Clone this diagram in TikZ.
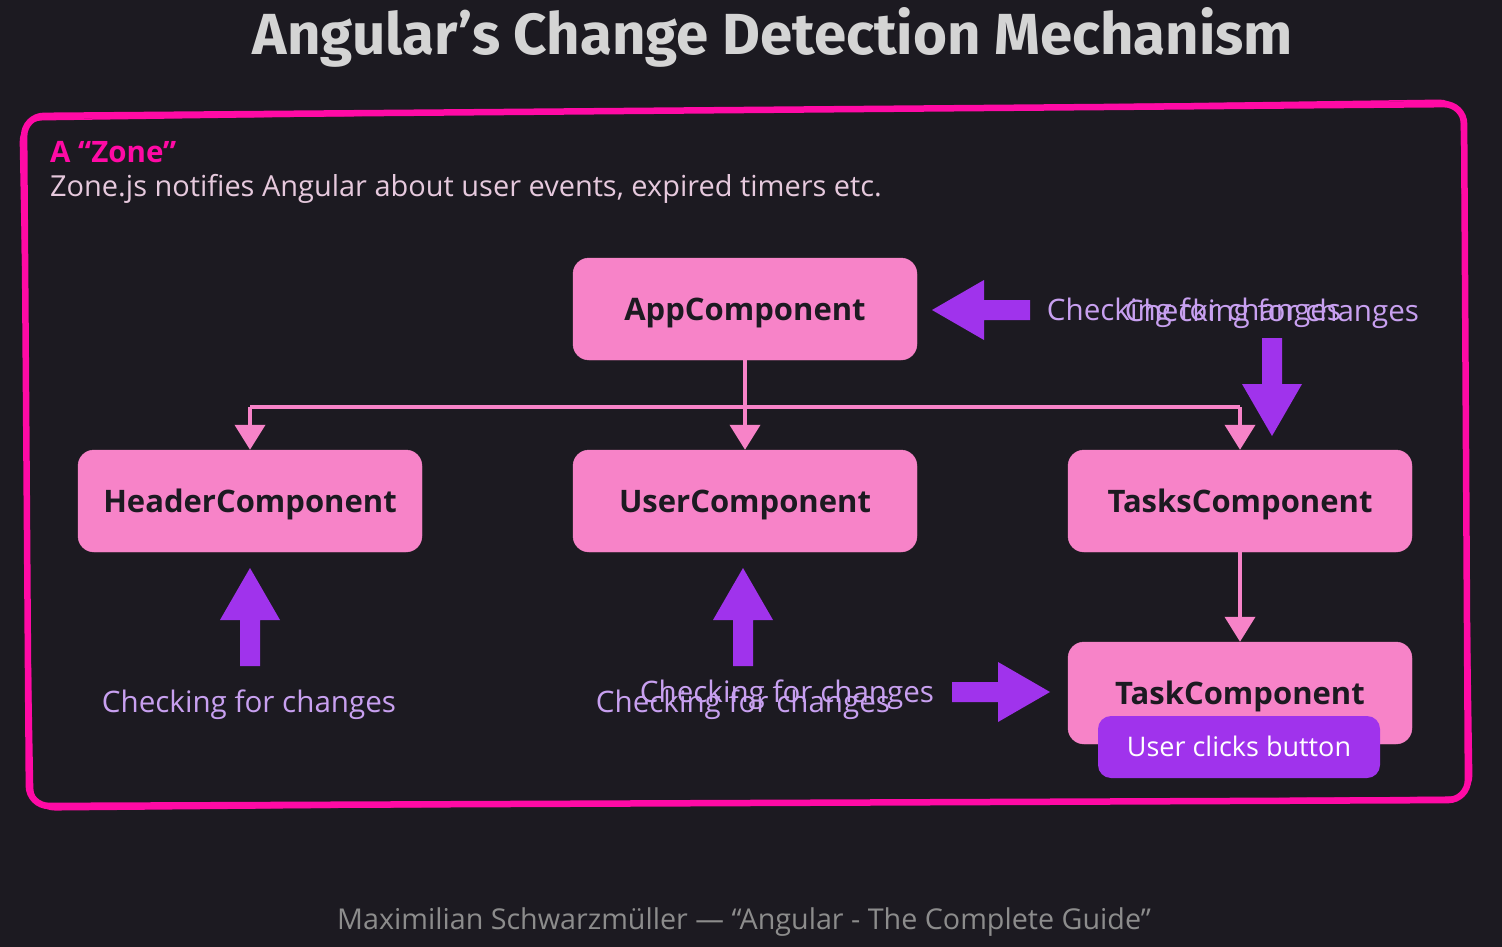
\documentclass[tikz,border=0pt]{standalone}
\usepackage{fontspec}
\usepackage{graphicx}
\setmainfont{Open Sans}
\newfontfamily\titlefont{Fira Sans}
\usetikzlibrary{arrows.meta}
\definecolor{bg}{HTML}{1C1A21}
\definecolor{zonepink}{HTML}{FF0AA5}
\definecolor{boxpink}{HTML}{F783C8}
\definecolor{bigpurple}{HTML}{A033EC}
\definecolor{lablav}{HTML}{C8A0F0}
\definecolor{zonetext}{HTML}{E6C9DD}
\definecolor{titlegrey}{HTML}{D4D4D4}
\definecolor{footgrey}{HTML}{8C8C8C}
\definecolor{darktext}{HTML}{1C1A21}
\tikzset{
  comp/.style={draw=boxpink, fill=boxpink, rounded corners=16pt, minimum width=344pt, minimum height=102pt, inner sep=0pt, text=darktext, text height=22pt, text depth=0pt, font=\fontsize{31}{34}\selectfont\bfseries},
  checklabel/.style={text=lablav, inner sep=0pt, text height=21pt, text depth=0pt, font=\fontsize{29.6}{33}\selectfont},
  conn/.style={draw=boxpink, line width=4pt, -{Triangle[width=30pt,length=25pt]}},
  connline/.style={draw=boxpink, line width=4pt},
  bigarrow/.style={fill=bigpurple, draw=none},
}
\newcommand{\purplearrow}[3]{%
  \begin{scope}[shift={(#1,#2)}, rotate=#3]
    \path[bigarrow] (0,0) -- (-52,30) -- (-52,10) -- (-98,10) -- (-98,-10) -- (-52,-10) -- (-52,-30) -- cycle;
  \end{scope}}
\begin{document}
\begin{tikzpicture}[x=1pt,y=-1pt]
\fill[bg] (0,0) rectangle (1502,947);
\useasboundingbox (0,0) rectangle (1502,947);

% title
\node[anchor=base, inner sep=0pt, text=titlegrey] (title) at (773,55)
  {\resizebox{1040pt}{47pt}{\titlefont\bfseries Angular’s Change Detection Mechanism}};

% zone frame
\draw[zonepink, line width=6.5pt, rounded corners=20pt] (24,116) -- (1464,104) -- (1468,800) -- (29,806) -- cycle;
\draw[zonepink, line width=1.5pt, rounded corners=22pt] (20,120) -- (1461,100) -- (1472,797) -- (33,810) -- cycle;

\node[anchor=base west, inner sep=0pt, text=zonepink, font=\fontsize{29.5}{32}\selectfont\bfseries] (zonetitle) at (50,163) {A “Zone”};
\node[anchor=base west, inner sep=0pt, text=zonetext, font=\fontsize{28.95}{32}\selectfont] (zonedesc) at (50,196) {Zone.js notifies Angular about user events, expired timers etc.};

% components
\node[comp] (app) at (745,309) {AppComponent};
\node[comp] (header) at (250,501) {HeaderComponent};
\node[comp] (user) at (745,501) {UserComponent};
\node[comp] (tasks) at (1240,501) {TasksComponent};
\node[comp] (task) at (1240,693) {TaskComponent};
\node[fill=bigpurple, rounded corners=13pt, minimum width=282pt, minimum height=62pt, inner sep=0pt, text=white, text height=19.3pt, text depth=0pt, font=\fontsize{27}{30}\selectfont] (click) at (1239,747) {User clicks button};

% connectors
\coordinate (split) at (745,407);
\draw[connline] (app.south) -- (split);
\draw[conn] (split) -- (user.north);
\draw[connline] (header.north |- split) -- (tasks.north |- split);
\draw[conn] (header.north |- split) -- (header.north);
\draw[conn] (tasks.north |- split) -- (tasks.north);
\draw[conn] (tasks.south) -- (task.north);

% big purple arrows
\purplearrow{932}{310}{180}
\purplearrow{1272}{436}{-90}
\purplearrow{250}{568}{90}
\purplearrow{743}{568}{90}
\purplearrow{1050}{692}{0}

% labels
\node[checklabel] (lh) at (249,702) {Checking for changes};
\node[checklabel] (lu1) at (743,702) {Checking for changes};
\node[checklabel] (lu2) at (787,692) {Checking for changes};
\node[checklabel] (la1) at (1194,310) {Checking for changes};
\node[checklabel] (la2) at (1272,311) {Checking for changes};

% footer
\node[text=footgrey, inner sep=0pt, font=\fontsize{28.7}{31}\selectfont] (footer) at (744,922) {Maximilian Schwarzmüller — “Angular - The Complete Guide”};
\end{tikzpicture}
\end{document}
